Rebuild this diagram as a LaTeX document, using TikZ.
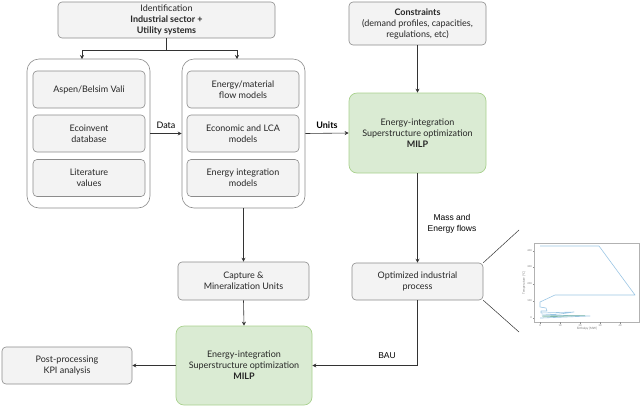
\documentclass[tikz,border=0pt]{standalone}
\usepackage{fontspec}
\setmainfont{Lato}
\newfontfamily\arialfont{Liberation Sans}
\usetikzlibrary{arrows.meta}
\definecolor{boxfill}{HTML}{F3F3F3}
\definecolor{boxline}{HTML}{8C8C8C}
\definecolor{grfill}{HTML}{DAEBD3}
\definecolor{grline}{HTML}{A9D18E}
\definecolor{linec}{HTML}{333333}
\definecolor{plotc}{HTML}{9CC6E4}
\definecolor{plotg}{HTML}{7FB8A8}
\tikzset{
  txt/.style={font=\fontsize{9}{11}\selectfont, align=center, text=black!85},
  graybox/.style={txt, draw=boxline, fill=boxfill, rounded corners=4pt, line width=0.6pt, inner sep=0pt},
  greenbox/.style={txt, draw=grline, fill=grfill, rounded corners=8pt, line width=0.7pt, inner sep=0pt},
  groupbox/.style={draw=boxline, fill=white, rounded corners=12pt, line width=0.6pt, inner sep=0pt},
  arr/.style={draw=linec, line width=0.6pt, -{Stealth[length=4pt,width=4pt]}},
  ln/.style={draw=linec, line width=0.6pt},
  lab/.style={font=\arialfont\fontsize{8.5}{10.5}\selectfont, align=center},
}
\begin{document}
\begin{tikzpicture}[x=1pt,y=-1pt]
\useasboundingbox (0,0) rectangle (642,408);

% top boxes
\node[graybox, minimum width=217, minimum height=36] (ident) at (166.5,20)
  {Identification\\\textbf{Industrial sector +}\\\textbf{Utility systems}};
\node[graybox, minimum width=137, minimum height=43] (cons) at (417.5,23.5)
  {\textbf{Constraints}\\(demand profiles, capacities,\\regulations, etc)};

% groups
\node[groupbox, minimum width=123, minimum height=149] (lgroup) at (88.5,133.5) {};
\node[groupbox, minimum width=123, minimum height=149] (rgroup) at (243.5,133.5) {};

\node[graybox, minimum width=112, minimum height=37] (l1) at (89,89.5) {Aspen/Belsim Vali};
\node[graybox, minimum width=112, minimum height=37] (l2) at (89,133.5) {Ecoinvent\\database};
\node[graybox, minimum width=112, minimum height=37] (l3) at (89,178) {Literature\\values};

\node[graybox, minimum width=112, minimum height=37] (r1) at (243,89.5) {Energy/material\\flow models};
\node[graybox, minimum width=112, minimum height=37] (r2) at (243,133.5) {Economic and LCA\\models};
\node[graybox, minimum width=112, minimum height=37] (r3) at (243,178) {Energy integration\\models};

% green boxes
\node[greenbox, minimum width=137, minimum height=80] (g1) at (417.5,133)
  {Energy-integration\\Superstructure optimization\\\textbf{MILP}};
\node[greenbox, minimum width=136, minimum height=79] (g2) at (244,365.5)
  {Energy-integration\\Superstructure optimization\\\textbf{MILP}};

% lower gray boxes
\node[graybox, minimum width=131, minimum height=37] (opt) at (417.5,281.5) {Optimized industrial\\process};
\node[graybox, minimum width=131, minimum height=38] (cap) at (243.5,281) {Capture \&\\Mineralization Units};
\node[graybox, minimum width=130, minimum height=37] (post) at (67,365.5) {Post-processing\\KPI analysis};

% connectors
\coordinate (split) at (166.5,50);
\draw[ln] (ident.south) -- (split);
\draw[arr] (split) -| (82,59);
\draw[arr] (split) -| (237,59);
\draw[arr] (lgroup.east) -- node[above, font=\fontsize{9}{11}\selectfont, yshift=1pt] (datal) {Data} (rgroup.west);
\draw[arr] (rgroup.east) -- node[above, font=\fontsize{9}{11}\selectfont, yshift=1pt] (unitsl) {\textbf{Units}} (g1.west);
\draw[arr] (cons.south) -- (g1.north);
\draw[arr] (g1.south) -- (opt.north);
\node[lab] (mass) at (452,224) {Mass and\\Energy flows};
\coordinate (bend) at (417.5,365.5);
\draw[ln] (opt.south) -- (bend);
\draw[arr] (bend) -- (g2.east);
\node[lab] (bau) at (387,356) {BAU};
\draw[arr] (243.5,208) -- (cap.north);
\draw[arr] (cap.south) -- (g2.north);
\draw[arr] (g2.west) -- (post.east);

% zoom lines
\coordinate (z1) at (519,230);
\coordinate (z2) at (519,332);
\draw[linec, line width=0.5pt] (opt.north east) -- (z1);
\draw[linec, line width=0.5pt] (opt.south east) -- (z2);

% chart
\draw[black!30, line width=0.4pt] (534,243) rectangle (639,322);
\foreach \yy/\t in {251/400,267/300,284/200,301/100,318/0}{
  \draw[black!45, line width=0.3pt] (534,\yy) -- (532.5,\yy);
  \node[font=\fontsize{2.5}{3}\selectfont, text=black!55, anchor=east, inner sep=0.5pt] at (532.5,\yy) {\t};
}
\foreach \xx/\t in {540/0,560/10,580/20,600/30,620/40}{
  \draw[black!45, line width=0.3pt] (\xx,322) -- (\xx,323.5);
  \node[font=\fontsize{2.5}{3}\selectfont, text=black!55, anchor=north, inner sep=0.5pt] at (\xx,323.5) {\t};
}
\node[font=\fontsize{3}{3.5}\selectfont, text=black!55] at (587,329) {Enthalpy [MW]};
\node[font=\fontsize{3}{3.5}\selectfont, text=black!55, rotate=90] at (524,283) {Temperature [°C]};
\draw[plotc, line width=0.6pt, line join=round]
  (540,246) -- (599,246) -- (635,295) -- (555,295) -- (540,302) -- (540,307)
  -- (546,308) -- (547,311) -- (541,311) -- (541,313) -- (574,312) -- (560,314)
  -- (542,315) -- (590,316) -- (542,318) -- (540,318);
\draw[plotg, line width=0.5pt] (542,316) -- (585,315.5) -- (543,317);
\end{tikzpicture}
\end{document}
